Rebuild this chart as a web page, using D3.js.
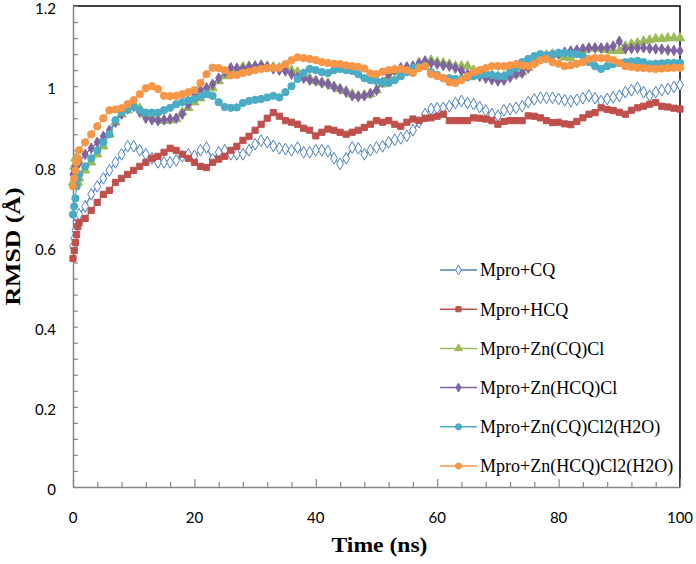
<!DOCTYPE html>
<html>
<head>
<meta charset="utf-8">
<script src="https://cdn.jsdelivr.net/npm/d3@7"></script>
<style>
  body { margin: 0; background: #fff; }
</style>
</head>
<body>
<div id="canvas"></div>
<script>
// time points (ns)
const time = [0, 0.2, 0.4, 0.6, 0.8,
  1, 2, 3, 4, 5, 6, 7, 8, 9, 10, 11, 12, 13, 14, 15, 16, 17, 18, 19, 20,
  21, 22, 23, 24, 25, 26, 27, 28, 29, 30, 31, 32, 33, 34, 35, 36, 37, 38, 39, 40,
  41, 42, 43, 44, 45, 46, 47, 48, 49, 50, 51, 52, 53, 54, 55, 56, 57, 58, 59, 60,
  61, 62, 63, 64, 65, 66, 67, 68, 69, 70, 71, 72, 73, 74, 75, 76, 77, 78, 79, 80,
  81, 82, 83, 84, 85, 86, 87, 88, 89, 90, 91, 92, 93, 94, 95, 96, 97, 98, 99, 100];

const mproCQ = [0.60, 0.62, 0.64, 0.66, 0.67,
  0.68, 0.70, 0.73, 0.75, 0.77, 0.79, 0.81, 0.83, 0.85, 0.85,
  0.84, 0.83, 0.82, 0.81, 0.81, 0.81, 0.815, 0.825, 0.83, 0.826,
  0.84, 0.847, 0.818, 0.835, 0.84, 0.83, 0.83, 0.83, 0.84, 0.855,
  0.864, 0.86, 0.851, 0.845, 0.843, 0.84, 0.847, 0.835, 0.835, 0.84,
  0.84, 0.838, 0.82, 0.806, 0.82, 0.847, 0.845, 0.83, 0.84, 0.847,
  0.85, 0.86, 0.866, 0.87, 0.876, 0.89, 0.91, 0.93, 0.943, 0.945,
  0.946, 0.95, 0.958, 0.963, 0.958, 0.955, 0.948, 0.939, 0.93, 0.926,
  0.94, 0.943, 0.946, 0.95, 0.96, 0.967, 0.971, 0.971, 0.971, 0.968,
  0.965, 0.963, 0.966, 0.97, 0.976, 0.97, 0.963, 0.968, 0.972, 0.976,
  0.985, 0.99, 0.996, 0.985, 0.976, 0.985, 0.99, 0.993, 0.998, 1.003];

const mproHCQ = [0.57, 0.59, 0.61, 0.63, 0.65,
  0.66, 0.67, 0.69, 0.71, 0.73, 0.74, 0.76, 0.77, 0.78, 0.79,
  0.80, 0.81, 0.82, 0.825, 0.835, 0.845, 0.84, 0.83, 0.82, 0.81,
  0.80, 0.797, 0.81, 0.818, 0.825, 0.84, 0.85, 0.865, 0.875, 0.89,
  0.905, 0.92, 0.934, 0.925, 0.914, 0.91, 0.905, 0.895, 0.89, 0.876,
  0.885, 0.893, 0.89, 0.885, 0.88, 0.885, 0.89, 0.897, 0.905, 0.914,
  0.91, 0.914, 0.905, 0.90, 0.91, 0.918, 0.914, 0.92, 0.921, 0.925,
  0.93, 0.914, 0.914, 0.914, 0.914, 0.921, 0.92, 0.918, 0.914, 0.905,
  0.912, 0.914, 0.914, 0.914, 0.926, 0.925, 0.921, 0.914, 0.909, 0.91,
  0.906, 0.904, 0.912, 0.921, 0.93, 0.934, 0.946, 0.942, 0.939, 0.935,
  0.93, 0.94, 0.946, 0.95, 0.955, 0.959, 0.95, 0.948, 0.945, 0.943];

const mproZnCQCl = [0.76, 0.80, 0.82, 0.78, 0.76,
  0.77, 0.79, 0.81, 0.83, 0.85, 0.88, 0.91, 0.93, 0.94, 0.95,
  0.945, 0.93, 0.925, 0.918, 0.914, 0.915, 0.918, 0.935, 0.946, 0.96,
  0.97, 0.98, 0.995, 1.013, 1.025, 1.035, 1.04, 1.048, 1.05, 1.05,
  1.052, 1.05, 1.048, 1.046, 1.045, 1.04, 1.035, 1.03, 1.02, 1.013,
  1.01, 1.008, 1.0, 0.993, 0.988, 0.98, 0.976, 0.978, 0.98, 0.99,
  1.005, 1.025, 1.035, 1.042, 1.046, 1.048, 1.05, 1.058, 1.065, 1.06,
  1.058, 1.055, 1.05, 1.05, 1.05, 1.04, 1.033, 1.03, 1.027, 1.025,
  1.025, 1.028, 1.03, 1.035, 1.046, 1.058, 1.068, 1.078, 1.08, 1.078,
  1.072, 1.07, 1.08, 1.09, 1.095, 1.095, 1.094, 1.09, 1.088, 1.088,
  1.1, 1.105, 1.108, 1.112, 1.115, 1.118, 1.118, 1.12, 1.12, 1.12];

const mproZnHCQCl = [0.78, 0.79, 0.80, 0.80, 0.805,
  0.81, 0.83, 0.845, 0.86, 0.875, 0.89, 0.91, 0.93, 0.943, 0.95,
  0.935, 0.92, 0.916, 0.914, 0.916, 0.918, 0.92, 0.93, 0.955, 0.98,
  0.99, 0.996, 1.005, 1.02, 1.035, 1.046, 1.045, 1.043, 1.047, 1.05,
  1.052, 1.048, 1.043, 1.04, 1.038, 1.03, 1.022, 1.02, 1.015, 1.013,
  1.008, 1.005, 0.998, 0.993, 0.985, 0.976, 0.974, 0.976, 0.982, 0.99,
  1.01, 1.03, 1.04, 1.046, 1.048, 1.05, 1.058, 1.063, 1.058, 1.055,
  1.052, 1.05, 1.045, 1.038, 1.03, 1.028, 1.024, 1.02, 1.016, 1.013,
  1.015, 1.022, 1.03, 1.033, 1.045, 1.058, 1.068, 1.072, 1.076, 1.08,
  1.085, 1.088, 1.09, 1.093, 1.095, 1.095, 1.095, 1.096, 1.1, 1.112,
  1.093, 1.094, 1.095, 1.096, 1.094, 1.093, 1.092, 1.09, 1.089, 1.088];

const mproZnCQClW = [0.68, 0.70, 0.72, 0.75, 0.77,
  0.78, 0.80, 0.82, 0.84, 0.86, 0.88, 0.915, 0.935, 0.943, 0.951,
  0.94, 0.934, 0.934, 0.934, 0.94, 0.946, 0.955, 0.96, 0.965, 0.968,
  0.975, 0.98, 0.976, 0.96, 0.948, 0.946, 0.947, 0.958, 0.963, 0.966,
  0.968, 0.972, 0.976, 0.972, 0.985, 1.0, 1.018, 1.033, 1.043, 1.04,
  1.035, 1.033, 1.04, 1.043, 1.04, 1.038, 1.03, 1.02, 1.015, 1.013,
  1.01, 1.008, 1.015, 1.025, 1.035, 1.046, 1.048, 1.05, 1.035, 1.028,
  1.02, 1.02, 1.018, 1.018, 1.022, 1.025, 1.028, 1.03, 1.028, 1.025,
  1.025, 1.035, 1.046, 1.06, 1.068, 1.075, 1.08, 1.077, 1.08, 1.083,
  1.083, 1.082, 1.08, 1.075, 1.06, 1.05, 1.043, 1.05, 1.055, 1.058,
  1.06, 1.062, 1.063, 1.06, 1.055, 1.056, 1.057, 1.058, 1.058, 1.058];

const mproZnHCQClW = [0.75, 0.77, 0.79, 0.81, 0.82,
  0.84, 0.86, 0.88, 0.90, 0.92, 0.94, 0.942, 0.945, 0.955, 0.965,
  0.98, 0.995, 1.0, 0.993, 0.976, 0.975, 0.976, 0.98, 0.985, 0.99,
  1.008, 1.03, 1.046, 1.045, 1.04, 1.027, 1.028, 1.033, 1.036, 1.04,
  1.043, 1.045, 1.046, 1.046, 1.055, 1.065, 1.072, 1.07, 1.068, 1.065,
  1.06, 1.058, 1.056, 1.055, 1.052, 1.05, 1.048, 1.044, 1.032, 1.03,
  1.036, 1.04, 1.042, 1.043, 1.04, 1.033, 1.045, 1.05, 1.03, 1.025,
  1.02, 1.01, 1.008, 1.015, 1.025, 1.035, 1.04, 1.045, 1.05, 1.05,
  1.05, 1.052, 1.055, 1.052, 1.05, 1.056, 1.065, 1.068, 1.06, 1.056,
  1.05, 1.052, 1.056, 1.06, 1.068, 1.07, 1.07, 1.07, 1.065, 1.058,
  1.05, 1.048, 1.046, 1.045, 1.044, 1.043, 1.044, 1.045, 1.046, 1.046];

const seriesNames = ["Mpro+CQ", "Mpro+HCQ", "Mpro+Zn(CQ)Cl", "Mpro+Zn(HCQ)Cl",
                     "Mpro+Zn(CQ)Cl2(H2O)", "Mpro+Zn(HCQ)Cl2(H2O)"];
const seriesValues = [mproCQ, mproHCQ, mproZnCQCl, mproZnHCQCl, mproZnCQClW, mproZnHCQClW];
const colors = ["#4F81BD", "#C0504D", "#9BBB59", "#8064A2", "#4BACC6", "#F79646"];
const xTicks = [0, 20, 40, 60, 80, 100];
const yTicks = [0, 0.2, 0.4, 0.6, 0.8, 1, 1.2];

const width = 696, height = 564;
const margin = { top: 6, right: 16, bottom: 77, left: 73 };
const graphWidth = width - margin.left - margin.right;
const graphHeight = height - margin.top - margin.bottom;

const svg = d3.select("#canvas").append("svg")
  .attr("width", width)
  .attr("height", height);

const graph = svg.append("g")
  .attr("transform", `translate(${margin.left},${margin.top})`);

const x = d3.scaleLinear().domain([0, 100]).range([0, graphWidth]);
const y = d3.scaleLinear().domain([0, 1.2]).range([graphHeight, 0]);

// plot border (top/right black)
graph.append("path")
  .attr("d", `M0,0H${graphWidth}V${graphHeight}`)
  .attr("fill", "none")
  .attr("stroke", "#000")
  .attr("stroke-width", 1.5);

const tickFont = "Lato, 'Open Sans', sans-serif";

// x axis: inward ticks, minor every 4 ns
const xAxisGroup = graph.append("g").attr("transform", `translate(0,${graphHeight})`);
xAxisGroup.call(d3.axisBottom(x).tickValues(d3.range(0, 101, 4)).tickSize(0).tickFormat(""));
xAxisGroup.selectAll(".tick").append("line")
  .attr("y2", d => d % 20 === 0 ? -8 : -5);
graph.append("g").selectAll("text")
  .data(xTicks)
  .enter().append("text")
  .attr("x", d => x(d))
  .attr("y", graphHeight + 36)
  .style("text-anchor", "middle")
  .style("font-family", tickFont)
  .style("font-size", "15px")
  .text(d => d);

// y axis: inward ticks, minor every 0.04
const yAxisGroup = graph.append("g");
yAxisGroup.call(d3.axisLeft(y).tickValues(d3.range(0, 31).map(i => i * 0.04)).tickSize(0).tickFormat(""));
yAxisGroup.selectAll(".tick").append("line").attr("x2", 5);
graph.append("g").selectAll("text")
  .data(yTicks)
  .enter().append("text")
  .attr("x", -17)
  .attr("y", d => y(d) + 3)
  .attr("dy", "0.35em")
  .style("text-anchor", "end")
  .style("font-family", tickFont)
  .style("font-size", "15px")
  .text(d => d);

[xAxisGroup, yAxisGroup].forEach(g => {
  g.select(".domain").attr("stroke", "#868686").attr("stroke-width", 1.5);
  g.selectAll(".tick line").attr("stroke", "#868686").attr("stroke-width", 1.2);
});

// markers
const symbols = [
  { type: d3.symbolDiamond, size: 40, fill: "#fff" },
  { type: d3.symbolSquare, size: 38, fill: null },
  { type: d3.symbolTriangle, size: 38, fill: null },
  { type: d3.symbolDiamond, size: 32, fill: null },
  { type: d3.symbolCircle, size: 42, fill: null },
  { type: d3.symbolCircle, size: 42, fill: null }
];

const line = d3.line()
  .x((d, i) => x(time[i]))
  .y(d => y(d));

seriesValues.forEach((vals, s) => {
  const g = graph.append("g");
  g.append("path")
    .datum(vals)
    .attr("fill", "none")
    .attr("stroke", colors[s])
    .attr("stroke-width", 1.2)
    .attr("d", line);
  const sym = d3.symbol().type(symbols[s].type).size(symbols[s].size);
  g.selectAll("path.mark")
    .data(vals)
    .enter().append("path")
    .attr("class", "mark")
    .attr("d", sym)
    .attr("transform", (d, i) => `translate(${x(time[i])},${y(d)})`)
    .attr("fill", symbols[s].fill || colors[s])
    .attr("stroke", colors[s])
    .attr("stroke-width", 1);
});

// legend
const legend = graph.append("g").attr("transform", `translate(${440 - margin.left},${270 - margin.top})`);
seriesNames.forEach((name, i) => {
  const row = legend.append("g").attr("transform", `translate(0,${i * 39.2})`);
  row.append("line")
    .attr("x1", 0).attr("x2", 37)
    .attr("stroke", colors[i]).attr("stroke-width", 1.5);
  row.append("path")
    .attr("d", d3.symbol().type(symbols[i].type).size(symbols[i].size * 0.7)())
    .attr("transform", "translate(18.5,0)")
    .attr("fill", symbols[i].fill || colors[i])
    .attr("stroke", colors[i]);
  row.append("text")
    .attr("x", 40)
    .attr("dy", "0.35em")
    .style("font-family", "'Liberation Serif', 'Times New Roman', serif")
    .style("font-size", "18px")
    .text(name);
});

// axis titles
svg.append("text")
  .attr("transform", `translate(20,${margin.top + graphHeight / 2}) rotate(-90)`)
  .attr("textLength", 118)
  .attr("lengthAdjust", "spacingAndGlyphs")
  .style("text-anchor", "middle")
  .style("font-family", "'Liberation Serif', 'Times New Roman', serif")
  .style("font-weight", "bold")
  .style("font-size", "22px")
  .text("RMSD (Å)");

svg.append("text")
  .attr("x", margin.left + graphWidth / 2 + 3)
  .attr("y", 552)
  .attr("textLength", 96)
  .attr("lengthAdjust", "spacingAndGlyphs")
  .style("text-anchor", "middle")
  .style("font-family", "'Liberation Serif', 'Times New Roman', serif")
  .style("font-weight", "bold")
  .style("font-size", "21px")
  .text("Time (ns)");
</script>
</body>
</html>
